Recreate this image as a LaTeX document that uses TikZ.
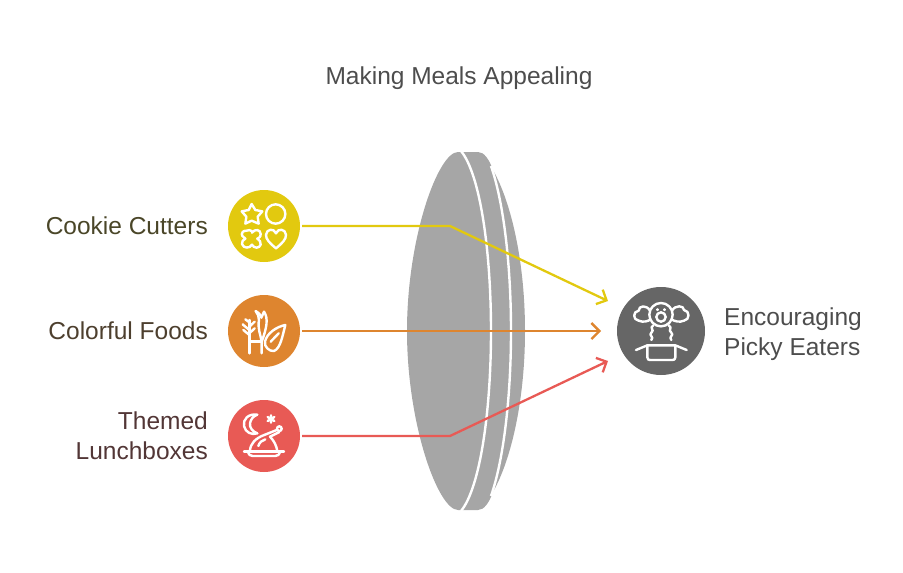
\documentclass[tikz,border=0pt]{standalone}
\usepackage{fontspec}
\setmainfont{Liberation Sans}
\usetikzlibrary{arrows.meta}
\definecolor{cyellow}{HTML}{E2C90F}
\definecolor{corange}{HTML}{DE852F}
\definecolor{cred}{HTML}{E85A55}
\definecolor{cdark}{HTML}{666666}
\definecolor{clens}{HTML}{A6A6A6}
\definecolor{tyellow}{HTML}{4A4628}
\definecolor{torange}{HTML}{4D3F2E}
\definecolor{tred}{HTML}{523636}
\definecolor{tdark}{HTML}{4D4D4D}
\begin{document}
\begin{tikzpicture}[x=1pt,y=-1pt,
  disc/.style={circle, minimum size=72pt, inner sep=0pt, outer sep=2pt, fill},
  lbl/.style={inner sep=0pt, font=\fontsize{24.5}{30}\selectfont},
  link/.style={line width=2.3pt, -{Straight Barb[length=8pt,width=16pt,line width=2.3pt]}},
  icon/.style={draw=white, line width=2.4pt, line cap=round, line join=round},
  gap/.style={draw=white, line width=2.4pt}]
\useasboundingbox (0,0) rectangle (903,573);
\node[lbl, text=tdark] (lid4) at (459,78){Making Meals Appealing};
\fill[clens] (458,152) .. controls (438,152) and (407,238) .. (407,331) .. controls (407,424) and (438,510) .. (458,510) -- (478,510) .. controls (484,510) and (489,503) .. (493,492) .. controls (512,458) and (525,398) .. (525,331) .. controls (525,264) and (512,204) .. (493,170) .. controls (489,159) and (484,152) .. (478,152) -- cycle;
\draw[gap] (461,151) .. controls (480,174) and (491,250) .. (491,331) .. controls (491,412) and (480,488) .. (461,511);
\draw[gap] (491,166) .. controls (503,200) and (511,262) .. (511,331) .. controls (511,400) and (503,462) .. (491,496);
\node[disc, fill=cyellow] (cid0) at (264,226){};
\node[disc, fill=corange] (cid1) at (264,331){};
\node[disc, fill=cred] (cid2) at (264,436){};
\node[disc, minimum size=88pt, fill=cdark] (cid3) at (661,331){};
\node[lbl, text=tyellow, anchor=east] (lid0) at (208,226){Cookie Cutters};
\node[lbl, text=torange, anchor=east] (lid1) at (208,331){Colorful Foods};
\node[lbl, text=tred, anchor=east, align=right] (lid2) at (208,436){Themed\\Lunchboxes};
\node[lbl, text=tdark, anchor=west, align=left] (lid3) at (724,334){Encouraging\\Picky Eaters};
\coordinate (bid0) at (450,226);
\coordinate (bid2) at (450,436);
\coordinate (eid0) at (608,301);
\coordinate (eid1) at (601,331);
\coordinate (eid2) at (608,361);
\draw[link, cyellow](cid0.east) -- (bid0) -- (eid0);
\draw[link, corange](cid1.east) -- (eid1);
\draw[link, cred](cid2.east) -- (bid2) -- (eid2);
\begin{scope}[shift={(220,180)},scale=1/3]
\draw[icon] (95,72) -- (106,90) -- (127,94) -- (113,110) -- (116,131) -- (95,122) -- (76,131) -- (79,110) -- (65,94) -- (86,90) -- cycle;
\draw[icon] (167,102) circle (29);
\draw[icon] (80,152) .. controls (92,146) and (100,158) .. (96,158) .. controls (104,146) and (122,148) .. (122,162) .. controls (122,172) and (116,174) .. (112,176) .. controls (118,180) and (124,186) .. (122,194) .. controls (118,206) and (102,206) .. (96,194) .. controls (90,206) and (70,206) .. (66,192) .. controls (64,184) and (70,180) .. (76,176) .. controls (68,172) and (62,164) .. (68,156) .. controls (70,153) and (75,152) .. (80,152) -- cycle;
\draw[icon] (168,205) .. controls (150,190) and (137,178) .. (138,164) .. controls (140,146) and (162,144) .. (168,160) .. controls (174,144) and (196,146) .. (198,164) .. controls (199,178) and (186,190) .. (168,205) -- cycle;
\end{scope}
\begin{scope}[shift={(220,285)},scale=1/3]
\draw[icon] (88,205) -- (88,105);
\draw[icon] (88,170) -- (125,170);
\draw[icon] (125,205) -- (125,170) .. controls (122,150) and (112,130) .. (117,105) .. controls (118,95) and (112,85) .. (107,78);
\draw[icon] (107,78) .. controls (118,85) and (122,90) .. (124,98) -- (132,80) .. controls (146,100) and (140,130) .. (125,170);
\draw[icon] (88,135) -- (68,118);
\draw[icon] (88,150) -- (70,135);
\draw[icon] (88,125) -- (104,110);
\draw[icon] (88,145) -- (104,130);
\draw[icon] (88,112) -- (76,103);
\draw[icon] (196,120) .. controls (170,125) and (140,145) .. (135,170) .. controls (132,185) and (148,200) .. (162,198) .. controls (182,190) and (188,150) .. (196,120) -- cycle;
\draw[icon] (152,170) -- (176,145);
\end{scope}
\begin{scope}[shift={(220,390)},scale=1/3]
\draw[icon] (112,74) .. controls (85,70) and (68,88) .. (72,108) .. controls (76,128) and (96,136) .. (112,130) .. controls (98,126) and (88,112) .. (90,100) .. controls (92,88) and (100,78) .. (112,74) -- cycle;
\draw[icon] (153,76) -- (153,98) (143,81) -- (163,93) (143,93) -- (163,81);
\draw[icon] (72,184) -- (192,184);
\draw[icon] (84,184) .. controls (86,194) and (90,198) .. (98,198) -- (166,198) .. controls (174,198) and (178,194) .. (180,184);
\draw[icon] (90,184) .. controls (90,160) and (108,145) .. (130,136) -- (170,120);
\draw[icon] (178,126) -- (150,140) .. controls (162,152) and (170,168) .. (172,184);
\draw[icon] (178,116) circle (7);
\draw[icon] (115,168) .. controls (118,158) and (126,150) .. (136,148);
\end{scope}
\begin{scope}[shift={(590,280)},scale=1/3]
\draw[icon] (213,104) circle (35);
\draw[icon] (213,111) circle (14);
\draw[icon] (203,88) -- (203,90) (223,88) -- (223,90);
\draw[icon] (180,92) .. controls (170,74) and (146,76) .. (146,92) .. controls (128,94) and (128,120) .. (146,122) .. controls (160,128) and (174,124) .. (182,118);
\draw[icon] (246,92) .. controls (256,74) and (282,76) .. (282,90) .. controls (300,92) and (300,120) .. (282,122) .. controls (268,128) and (254,124) .. (244,118);
\draw[icon] (190,136) .. controls (176,144) and (196,150) .. (184,158) .. controls (174,166) and (194,170) .. (184,180);
\draw[icon] (236,136) .. controls (250,144) and (232,150) .. (244,158) .. controls (254,166) and (234,170) .. (244,180);
\draw[icon] (172,196) -- (256,196) -- (256,232) .. controls (256,238) and (252,240) .. (248,240) -- (180,240) .. controls (176,240) and (172,238) .. (172,232) -- cycle;
\draw[icon] (172,196) -- (138,210);
\draw[icon] (256,196) -- (290,210);
\end{scope}
\end{tikzpicture}
\end{document}
